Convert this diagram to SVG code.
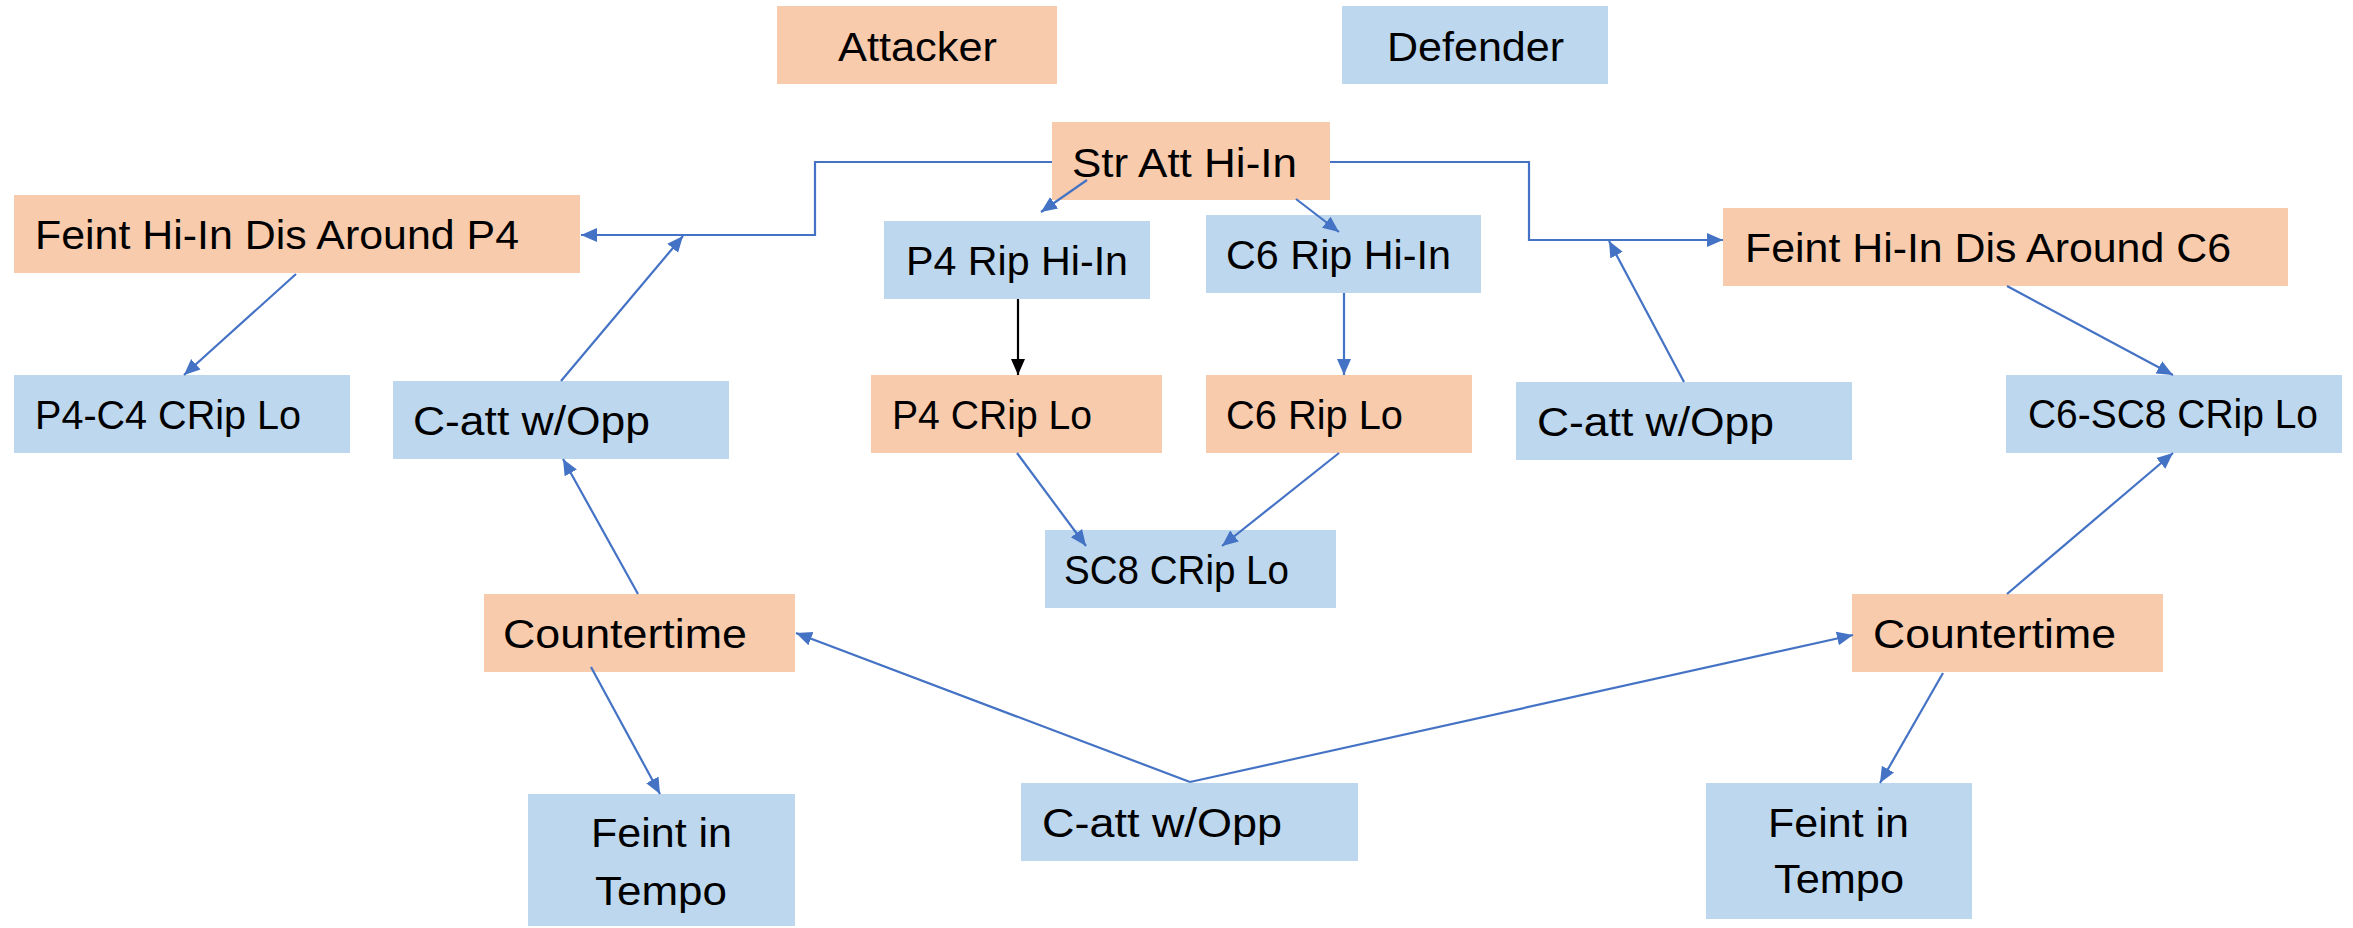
<svg xmlns="http://www.w3.org/2000/svg" width="2353" height="928" viewBox="0 0 2353 928">
<style>
.att{fill:#F8CBAD}
.def{fill:#BDD7EE}
text{font-family:"Liberation Sans",Arial,sans-serif;font-size:41px;fill:#000}
.c{fill:none;stroke:#4472C4;stroke-width:2.2;marker-end:url(#ab)}
.k{fill:none;stroke:#000;stroke-width:2.2;marker-end:url(#ak)}
</style>
<defs>
<marker id="ab" markerUnits="userSpaceOnUse" markerWidth="18" markerHeight="16" viewBox="0 0 18 16" refX="16" refY="8" orient="auto"><path d="M0,1 L16,8 L0,15 Z" fill="#4472C4"/></marker>
<marker id="ak" markerUnits="userSpaceOnUse" markerWidth="18" markerHeight="16" viewBox="0 0 18 16" refX="16" refY="8" orient="auto"><path d="M0,1 L16,8 L0,15 Z" fill="#000"/></marker>
</defs>
<rect width="2353" height="928" fill="#fff"/>
<g id="legend-attacker"><rect class="att" x="777" y="6" width="280" height="78"/><text x="838" y="61" textLength="159" lengthAdjust="spacingAndGlyphs">Attacker</text></g>
<g id="legend-defender"><rect class="def" x="1342" y="6" width="266" height="78"/><text x="1387" y="61" textLength="177" lengthAdjust="spacingAndGlyphs">Defender</text></g>
<g id="str-att"><rect class="att" x="1052" y="122" width="278" height="78"/><text x="1072" y="177" textLength="225" lengthAdjust="spacingAndGlyphs">Str Att Hi-In</text></g>
<g id="feint-p4"><rect class="att" x="14" y="195" width="566" height="78"/><text x="35" y="249" textLength="484" lengthAdjust="spacingAndGlyphs">Feint Hi-In Dis Around P4</text></g>
<g id="feint-c6"><rect class="att" x="1723" y="208" width="565" height="78"/><text x="1745" y="262" textLength="486" lengthAdjust="spacingAndGlyphs">Feint Hi-In Dis Around C6</text></g>
<g id="p4-rip"><rect class="def" x="884" y="221" width="266" height="78"/><text x="906" y="275" textLength="222" lengthAdjust="spacingAndGlyphs">P4 Rip Hi-In</text></g>
<g id="c6-rip"><rect class="def" x="1206" y="215" width="275" height="78"/><text x="1226" y="269" textLength="225" lengthAdjust="spacingAndGlyphs">C6 Rip Hi-In</text></g>
<g id="p4-c4"><rect class="def" x="14" y="375" width="336" height="78"/><text x="35" y="429" textLength="266" lengthAdjust="spacingAndGlyphs">P4-C4 CRip Lo</text></g>
<g id="catt-left"><rect class="def" x="393" y="381" width="336" height="78"/><text x="413" y="435" textLength="237" lengthAdjust="spacingAndGlyphs">C-att w/Opp</text></g>
<g id="p4-crip"><rect class="att" x="871" y="375" width="291" height="78"/><text x="892" y="429" textLength="200" lengthAdjust="spacingAndGlyphs">P4 CRip Lo</text></g>
<g id="c6-riplo"><rect class="att" x="1206" y="375" width="266" height="78"/><text x="1226" y="429" textLength="177" lengthAdjust="spacingAndGlyphs">C6 Rip Lo</text></g>
<g id="catt-right"><rect class="def" x="1516" y="382" width="336" height="78"/><text x="1537" y="436" textLength="237" lengthAdjust="spacingAndGlyphs">C-att w/Opp</text></g>
<g id="c6-sc8"><rect class="def" x="2006" y="375" width="336" height="78"/><text x="2028" y="428" textLength="290" lengthAdjust="spacingAndGlyphs">C6-SC8 CRip Lo</text></g>
<g id="sc8"><rect class="def" x="1045" y="530" width="291" height="78"/><text x="1064" y="584" textLength="225" lengthAdjust="spacingAndGlyphs">SC8 CRip Lo</text></g>
<g id="counter-left"><rect class="att" x="484" y="594" width="311" height="78"/><text x="503" y="648" textLength="244" lengthAdjust="spacingAndGlyphs">Countertime</text></g>
<g id="counter-right"><rect class="att" x="1852" y="594" width="311" height="78"/><text x="1873" y="648" textLength="243" lengthAdjust="spacingAndGlyphs">Countertime</text></g>
<g id="catt-bottom"><rect class="def" x="1021" y="783" width="337" height="78"/><text x="1042" y="837" textLength="240" lengthAdjust="spacingAndGlyphs">C-att w/Opp</text></g>
<g id="tempo-left"><rect class="def" x="528" y="794" width="267" height="132"/><text x="591" y="847" textLength="141" lengthAdjust="spacingAndGlyphs">Feint in</text><text x="595" y="905" textLength="132" lengthAdjust="spacingAndGlyphs">Tempo</text></g>
<g id="tempo-right"><rect class="def" x="1706" y="783" width="266" height="136"/><text x="1768" y="837" textLength="141" lengthAdjust="spacingAndGlyphs">Feint in</text><text x="1774" y="893" textLength="130" lengthAdjust="spacingAndGlyphs">Tempo</text></g>
<g id="connectors">
<polyline class="c" points="1052,162 815,162 815,235 581,235"/>
<line class="c" x1="561" y1="381" x2="683" y2="236"/>
<line class="c" x1="296" y1="274" x2="184" y2="375"/>
<polyline class="c" points="1330,162 1529,162 1529,240 1723,240"/>
<line class="c" x1="1684" y1="382" x2="1609" y2="241"/>
<line class="c" x1="2007" y1="286" x2="2173" y2="375"/>
<line class="c" x1="1087" y1="180" x2="1041" y2="212"/>
<line class="c" x1="1296" y1="199" x2="1339" y2="232"/>
<line class="k" x1="1018" y1="299" x2="1018" y2="375"/>
<line class="c" x1="1344" y1="293" x2="1344" y2="375"/>
<line class="c" x1="1017" y1="453" x2="1086" y2="546"/>
<line class="c" x1="1339" y1="453" x2="1222" y2="546"/>
<line class="c" x1="638" y1="594" x2="563" y2="459"/>
<line class="c" x1="591" y1="667" x2="660" y2="794"/>
<line class="c" x1="1190" y1="782" x2="796" y2="633"/>
<line class="c" x1="1190" y1="782" x2="1853" y2="635"/>
<line class="c" x1="2007" y1="594" x2="2173" y2="453"/>
<line class="c" x1="1943" y1="673" x2="1880" y2="783"/>
</g>
</svg>
